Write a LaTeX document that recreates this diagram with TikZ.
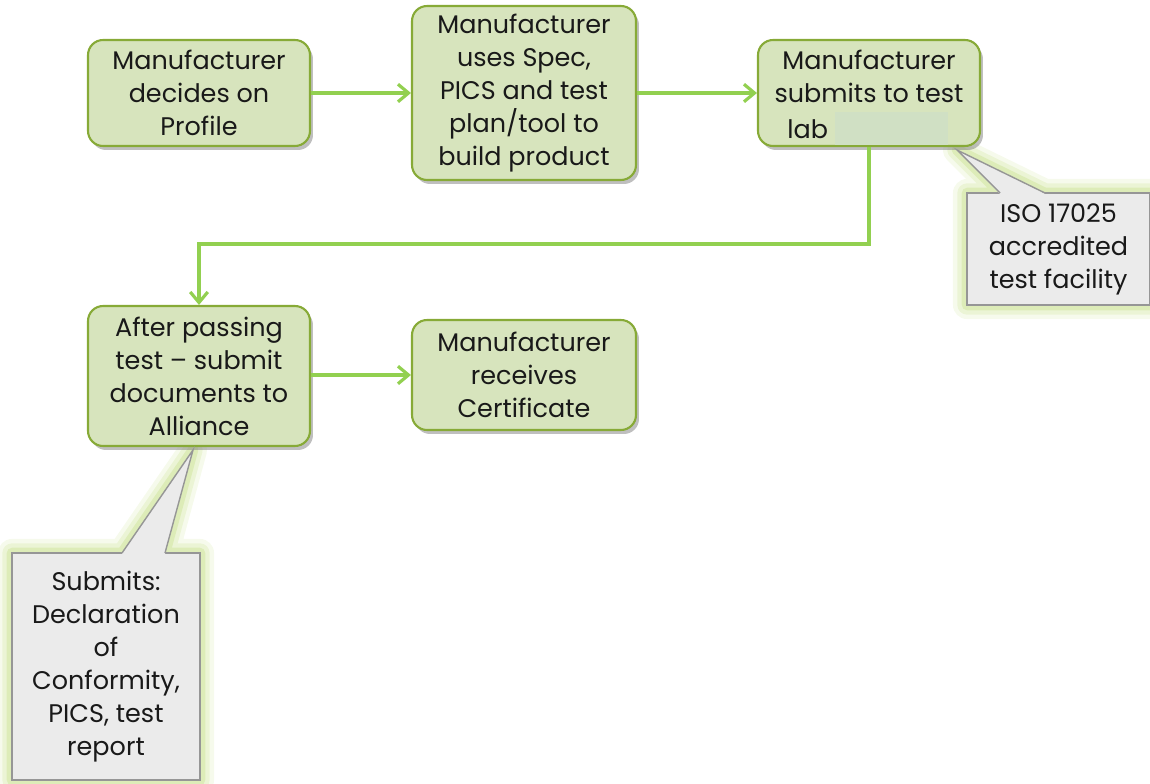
\documentclass[tikz,border=0pt]{standalone}
\usepackage{fontspec}
\setmainfont{Poppins}
\usetikzlibrary{arrows.meta,shadows,calc}
\definecolor{boxfill}{RGB}{215,228,189}
\definecolor{boxline}{RGB}{135,170,55}
\definecolor{arrowc}{RGB}{146,208,80}
\definecolor{callfill}{RGB}{235,235,235}
\definecolor{callline}{RGB}{150,150,150}
\definecolor{glowc}{RGB}{195,222,130}
\definecolor{patch}{RGB}{208,224,196}
\definecolor{txt}{RGB}{25,25,25}
\tikzset{
  stepbox/.style={draw=boxline, line width=1.2pt, fill=boxfill, rounded corners=0.3cm,
    align=center, text=txt, font=\fontsize{14.5}{18.8}\selectfont, inner sep=0pt,
    drop shadow={shadow xshift=0.06cm, shadow yshift=-0.08cm, opacity=0.5}},
  flow/.style={draw=arrowc, line width=1.8pt, -{Straight Barb[length=6pt,width=10pt,line width=1.8pt]}},
  callbody/.style={draw=callline, line width=0.8pt, fill=callfill, align=center, text=txt,
    font=\fontsize{14.5}{18.8}\selectfont, inner sep=0pt},
  glow/.style={draw=glowc, line join=round},
}
\begin{document}
\begin{tikzpicture}[x=0.02cm,y=-0.02cm]
\useasboundingbox (0,0) rectangle (1150,784);
% callout glows
\foreach \w/\o in {16/0.15,11/0.22,6/0.35}{
  \draw[glow, line width=\w pt, opacity=\o] (957,150) -- (1045,193) -- (1150,193) -- (1150,305) -- (967,305) -- (967,193) -- (1000,193) -- cycle;
  \draw[glow, line width=\w pt, opacity=\o] (193,450) -- (165,553) -- (200,553) -- (200,780) -- (12,780) -- (12,553) -- (122,553) -- cycle;
}
% boxes
\node[stepbox, minimum width=4.44cm, minimum height=2.12cm] (b1) at (199,93) {Manufacturer\\decides on\\Profile};
\node[stepbox, minimum width=4.48cm, minimum height=3.48cm] (b2) at (524,93) {Manufacturer\\uses Spec,\\PICS and test\\plan/tool to\\build product};
\node[stepbox, minimum width=4.44cm, minimum height=2.12cm] (b3) at (869,93) {Manufacturer\\submits to test\\\phantom{lab}\hphantom{xxxxxxxxxxx}};
\node[stepbox, minimum width=4.44cm, minimum height=2.8cm] (b4) at (199,376) {After passing\\test – submit\\documents to\\Alliance};
\node[stepbox, minimum width=4.48cm, minimum height=2.2cm] (b5) at (524,375) {Manufacturer\\receives\\Certificate};
% patch in box 3
\fill[patch] (835,112) rectangle (948,145);
\node[font=\fontsize{14.5}{18.8}\selectfont, text=txt, anchor=west, inner sep=0pt] (labt) at (787,129) {lab};
% callouts
\node[callbody, minimum width=3.66cm, minimum height=2.24cm] (iso) at (1058.5,249) {ISO 17025\\accredited\\test facility};
\fill[callfill] (957,150) -- (1045,193.8) -- (1000,193.8) -- cycle;
\draw[callline, line width=0.8pt] (1000,193) -- (957,150) -- (1045,193);
\node[callbody, minimum width=3.76cm, minimum height=4.54cm] (sub) at (106,666.5) {Submits:\\Declaration\\of\\Conformity,\\PICS, test\\report};
\fill[callfill] (193,450) -- (165,553.8) -- (122,553.8) -- cycle;
\draw[callline, line width=0.8pt] (122,553) -- (193,450) -- (165,553);
% connectors
\draw[flow] (b1) -- (b2);
\draw[flow] (b2) -- (b3);
\draw[flow] (b3.south) |- (534,244) -| (b4.north);
\draw[flow] (b4.east |- b5) -- (b5);
\end{tikzpicture}
\end{document}
